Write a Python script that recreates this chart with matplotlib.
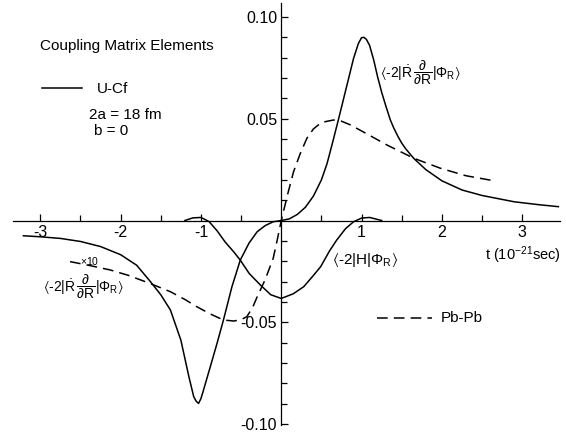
import matplotlib
matplotlib.use("Agg")
import matplotlib.pyplot as plt
from matplotlib.lines import Line2D
from matplotlib.ticker import FixedLocator, FixedFormatter

FONT = ['Liberation Sans', 'DejaVu Sans']
plt.rcParams['font.family'] = FONT
plt.rcParams['mathtext.fontset'] = 'custom'
plt.rcParams['mathtext.rm'] = 'Liberation Sans'
plt.rcParams['mathtext.it'] = 'Liberation Sans'
plt.rcParams['mathtext.sf'] = 'Liberation Sans'
plt.rcParams['mathtext.fallback'] = 'stixsans'

# ---- data ----
t_rdot = [-3.21, -3.0, -2.75, -2.5, -2.25, -2.0, -1.8, -1.63, -1.5, -1.38, -1.25, -1.15,
          -1.09, -1.06, -1.03, -1.0, -0.968, -0.884, -0.80, -0.72, -0.614, -0.51, -0.4,
          -0.3, -0.2, -0.1, 0.0, 0.1, 0.2, 0.3, 0.4, 0.5, 0.57, 0.63, 0.714, 0.818, 0.9,
          0.96, 1.0, 1.03, 1.06, 1.1, 1.15, 1.2, 1.25, 1.3, 1.357, 1.4, 1.45, 1.5, 1.55,
          1.65, 1.8, 2.0, 2.25, 2.5, 2.9, 3.2, 3.45]
v_rdot = [-0.0075, -0.0080, -0.0088, -0.0103, -0.0128, -0.0168, -0.0220, -0.0300, -0.0365,
          -0.0440, -0.0588, -0.0768, -0.0866, -0.0888, -0.0899, -0.0875, -0.0833, -0.0719,
          -0.0604, -0.0489, -0.0325, -0.0194, -0.0110, -0.0055, -0.0025, -0.0006, 0.0,
          0.0008, 0.0030, 0.0065, 0.0120, 0.0200, 0.0280, 0.0370, 0.0500, 0.0666, 0.0797,
          0.0870, 0.0899, 0.0900, 0.0890, 0.0860, 0.0790, 0.0705, 0.0630, 0.0565, 0.0495,
          0.0455, 0.0415, 0.0380, 0.0352, 0.0305, 0.0250, 0.0195, 0.0150, 0.0123, 0.0092,
          0.0078, 0.0068]

t_h = [-1.2, -1.1, -1.0, -0.9, -0.8, -0.7, -0.59, -0.51, -0.4, -0.26, -0.13, 0.0,
       0.15, 0.28, 0.4, 0.49, 0.6, 0.69, 0.8, 0.9, 1.0, 1.1, 1.25]
v_h = [0.0, 0.0013, 0.0015, -0.0005, -0.0050, -0.0105, -0.0155, -0.0195, -0.0260,
       -0.0317, -0.0365, -0.0383, -0.0360, -0.0325, -0.0270, -0.0227, -0.0150, -0.0096,
       -0.0040, -0.0006, 0.0012, 0.0015, 0.0]

t_pb = [-2.63, -2.4, -2.13, -1.9, -1.63, -1.38, -1.2, -1.05, -0.88, -0.72, -0.59, -0.5,
        -0.43, -0.36, -0.3, -0.2, -0.1, -0.05, 0.0, 0.08, 0.153, 0.237, 0.32, 0.4, 0.5,
        0.65, 0.75, 0.86, 1.0, 1.23, 1.316, 1.65, 1.98, 2.3, 2.665]
v_pb = [-0.0202, -0.0220, -0.0243, -0.0270, -0.0310, -0.0350, -0.0388, -0.0424, -0.0460,
        -0.0489, -0.0494, -0.0487, -0.0473, -0.0430, -0.0375, -0.0290, -0.0185, -0.0095,
        0.0, 0.0130, 0.0240, 0.0330, 0.0405, 0.0450, 0.0482, 0.0494, 0.0488, 0.0470,
        0.0440, 0.0390, 0.0371, 0.0306, 0.0257, 0.0220, 0.0194]

x_major = [-3, -2, -1, 1, 2, 3]
x_labels = ['-3', '-2', '-1', '1', '2', '3']
x_minor = [-2.5, -1.5, -0.5, 0.5, 1.5, 2.5]
y_major = [-0.10, -0.05, 0.05, 0.10]
y_labels = ['-0.10', '-0.05', '0.05', '0.10']
y_minor = [-0.09, -0.08, -0.07, -0.06, -0.04, -0.03, -0.02, -0.01,
           0.01, 0.02, 0.03, 0.04, 0.06, 0.07, 0.08, 0.09]

W, H = 566, 432
fig = plt.figure(figsize=(W / 100, H / 100), dpi=100)


def fx(px):
    return px / W


def fy(py):
    return 1 - py / H


ax = fig.add_axes([fx(13), fy(425), (560 - 13) / W, (425 - 3) / H])
ax.set_xlim(-3.34, 3.47)
ax.set_ylim(-0.1005, 0.1069)

DASH = (0, (7, 4))
ax.plot(t_rdot, v_rdot, color='black', lw=1.1)
ax.plot(t_h, v_h, color='black', lw=1.1)
ax.plot(t_pb, v_pb, color='black', lw=1.1, linestyle=DASH)

for s in ['top', 'right']:
    ax.spines[s].set_visible(False)
ax.spines['left'].set_position(('data', 0))
ax.spines['bottom'].set_position(('data', 0))
ax.spines['left'].set_linewidth(0.9)
ax.spines['bottom'].set_linewidth(0.9)

ax.xaxis.set_major_locator(FixedLocator(x_major))
ax.xaxis.set_major_formatter(FixedFormatter(x_labels))
ax.xaxis.set_minor_locator(FixedLocator(x_minor))
ax.yaxis.set_major_locator(FixedLocator(y_major))
ax.yaxis.set_major_formatter(FixedFormatter(y_labels))
ax.yaxis.set_minor_locator(FixedLocator(y_minor))

ax.tick_params(axis='x', which='major', direction='in', length=5, width=0.9,
               pad=3, labelsize=11.5)
ax.tick_params(axis='x', which='minor', direction='in', length=4, width=0.9)
ax.tick_params(axis='y', which='major', direction='in', length=5, width=0.9,
               pad=3, labelsize=11.5)
ax.tick_params(axis='y', which='minor', direction='in', length=4, width=0.9)
ax.patch.set_visible(False)

# ---- annotations ----
FS = 11
fig.text(fx(40), fy(50), 'Coupling Matrix Elements', fontsize=FS, va='baseline', ha='left')
fig.add_artist(Line2D([fx(42), fx(82)], [fy(88), fy(88)], color='black', lw=1.1))
fig.text(fx(97), fy(93), 'U-Cf', fontsize=FS, va='baseline', ha='left')
fig.text(fx(89), fy(119), '2a = 18 fm', fontsize=FS, va='baseline', ha='left')
fig.text(fx(94), fy(135), 'b = 0', fontsize=FS, va='baseline', ha='left')

lab_r = (r'$\langle$-2|$\dot{\mathrm{R}}\,\dfrac{\partial}{\partial\mathrm{R}}$'
         r'|$\Phi_{\mathrm{R}}\rangle$')
fig.text(fx(380), fy(73), lab_r, fontsize=10, va='center', ha='left')
fig.text(fx(43), fy(287), lab_r, fontsize=10, va='center', ha='left')
fig.text(fx(80), fy(261), r'$\times$10', fontsize=7.5, va='center', ha='left')
fig.text(fx(332), fy(260), r'$\langle$-2|H|$\Phi_{\mathrm{R}}\rangle$',
         fontsize=11, va='center', ha='left')
fig.text(fx(561), fy(255), r't (10$^{\mathrm{-21}}$sec)', fontsize=10.5, va='center',
         ha='right')

fig.add_artist(Line2D([fx(377), fx(432)], [fy(318), fy(318)], color='black', lw=1.1,
                      linestyle=DASH))
fig.text(fx(441), fy(318), 'Pb-Pb', fontsize=FS, va='center', ha='left')

fig.savefig('out.png', dpi=100)
